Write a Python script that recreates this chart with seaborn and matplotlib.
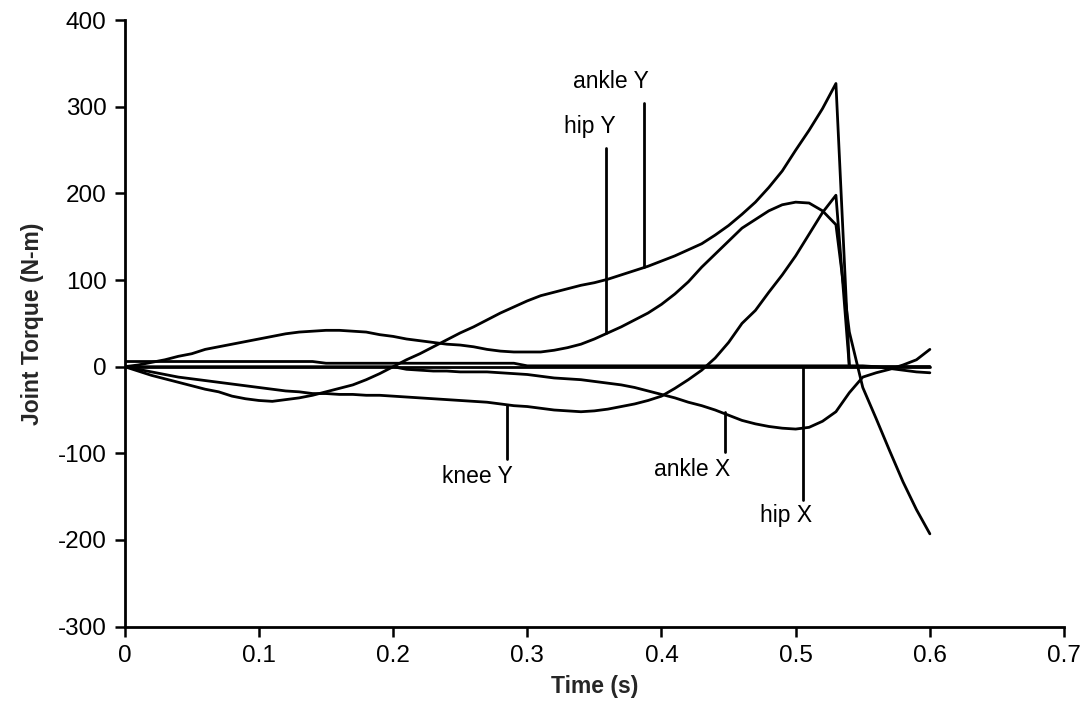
import numpy as np
import pandas as pd
import matplotlib
matplotlib.use("Agg")
import matplotlib.pyplot as plt
import seaborn as sns

# ---------------- data ----------------
time_s = [0.00, 0.01, 0.02, 0.03, 0.04, 0.05, 0.06, 0.07, 0.08, 0.09,
          0.10, 0.11, 0.12, 0.13, 0.14, 0.15, 0.16, 0.17, 0.18, 0.19,
          0.20, 0.21, 0.22, 0.23, 0.24, 0.25, 0.26, 0.27, 0.28, 0.29,
          0.30, 0.31, 0.32, 0.33, 0.34, 0.35, 0.36, 0.37, 0.38, 0.39,
          0.40, 0.41, 0.42, 0.43, 0.44, 0.45, 0.46, 0.47, 0.48, 0.49,
          0.50, 0.51, 0.52, 0.53, 0.54, 0.55, 0.56, 0.57, 0.58, 0.59,
          0.60]

ankle_y = [0, -5, -10, -14, -18, -22, -26, -29, -34, -37,
           -39, -40, -38, -36, -33, -29, -25, -21, -15, -8,
           0, 8, 15, 23, 31, 39, 46, 54, 62, 69,
           76, 82, 86, 90, 94, 97, 101, 106, 111, 116,
           122, 128, 135, 142, 152, 163, 176, 190, 207, 226,
           250, 273, 298, 327, 0, 0, 0, 0, 0, 0,
           0]

hip_y = [0, 2, 5, 8, 12, 15, 20, 23, 26, 29,
         32, 35, 38, 40, 41, 42, 42, 41, 40, 37,
         35, 32, 30, 28, 26, 25, 23, 20, 18, 17,
         17, 17, 19, 22, 26, 32, 39, 46, 54, 62,
         72, 84, 98, 115, 130, 145, 160, 170, 180, 187,
         190, 189, 180, 164, 40, -24, -60, -97, -133, -165,
         -193]

knee_y = [0, -3, -6, -9, -12, -14, -16, -18, -20, -22,
          -24, -26, -28, -29, -31, -31, -32, -32, -33, -33,
          -34, -35, -36, -37, -38, -39, -40, -41, -43, -45,
          -46, -48, -50, -51, -52, -51, -49, -46, -43, -39,
          -34, -25, -15, -4, 10, 28, 50, 65, 86, 106,
          128, 153, 178, 198, 0, 0, 0, 0, 0, 0,
          0]

ankle_x = [0, 0, 0, 0, 0, 0, 0, 0, 0, 0,
           0, 0, 0, 0, 0, 0, 0, 0, 0, 0,
           0, -3, -4, -5, -5, -6, -6, -6, -7, -8,
           -9, -11, -13, -14, -15, -17, -19, -21, -24, -28,
           -32, -36, -41, -45, -50, -56, -62, -66, -69, -71,
           -72, -70, -63, -52, -30, -12, -7, -3, 2, 8,
           20]

hip_x = [6, 6, 6, 6, 6, 6, 6, 6, 6, 6,
         6, 6, 6, 6, 6, 4, 4, 4, 4, 4,
         4, 4, 4, 4, 4, 4, 4, 4, 4, 4,
         1, 1, 1, 1, 1, 1, 1, 1, 1, 1,
         1, 1, 1, 1, 1, 1, 1, 1, 1, 1,
         1, 1, 1, 1, 1, 1, 0, -2, -4, -6,
         -7]

knee_x = [0] * len(time_s)

series_names = ["ankle Y", "hip Y", "knee Y", "ankle X", "hip X", "knee X"]
series_values = [ankle_y, hip_y, knee_y, ankle_x, hip_x, knee_x]

# label text, text position (x, y), pointer x, pointer y-from, pointer y-to
label_texts = ["ankle Y", "hip Y", "knee Y", "ankle X", "hip X"]
label_pos = [(0.362, 329), (0.347, 277), (0.263, -127), (0.4225, -119), (0.493, -172)]
pointer_x = [0.387, 0.3587, 0.285, 0.447, 0.5055]
pointer_y = [(304, 115), (252, 39), (-44, -106), (-52, -98), (0, -154)]

# ---------------- build long table ----------------
frames = []
for name, vals in zip(series_names, series_values):
    frames.append(pd.DataFrame({"Time": time_s, "Torque": vals, "series": name}))
df = pd.concat(frames, ignore_index=True)

sns.set_style("ticks")
plt.rcParams["font.family"] = ["Liberation Sans", "DejaVu Sans"]
plt.rcParams["axes.unicode_minus"] = False

fig = plt.figure(figsize=(10.88, 7.17), dpi=100)
ax = fig.add_axes([0.1146, 0.1262, 0.8634, 0.8455])

sns.lineplot(data=df, x="Time", y="Torque", hue="series", units="series",
             estimator=None, palette=["black"] * len(series_names),
             linewidth=2.0, legend=False, ax=ax, sort=False)

for txt, (tx, ty), px, (py0, py1) in zip(label_texts, label_pos, pointer_x, pointer_y):
    ax.plot([px, px], [py0, py1], color="black", linewidth=2.0)
    ax.text(tx, ty, txt, ha="center", va="center", fontsize=16.5, color="black")

ax.set_xlim(0, 0.7)
ax.set_ylim(-300, 400)
ax.set_xticks(np.arange(0, 0.71, 0.1))
ax.set_xticklabels(["0", "0.1", "0.2", "0.3", "0.4", "0.5", "0.6", "0.7"])
ax.set_yticks(np.arange(-300, 401, 100))
ax.set_yticklabels(["-300", "-200", "-100", "0", "100", "200", "300", "400"])

for side in ["top", "right"]:
    ax.spines[side].set_visible(False)
for side in ["left", "bottom"]:
    ax.spines[side].set_linewidth(2.0)
    ax.spines[side].set_color("black")

ax.tick_params(axis="both", direction="out", length=7, width=1.8,
               labelsize=17.5, colors="black", pad=6)

ax.set_xlabel("Time (s)", fontsize=16.5, fontweight="bold", labelpad=6)
ax.set_ylabel("Joint Torque (N-m)", fontsize=16.5, fontweight="bold", labelpad=10)

fig.savefig("out.png", dpi=100)
